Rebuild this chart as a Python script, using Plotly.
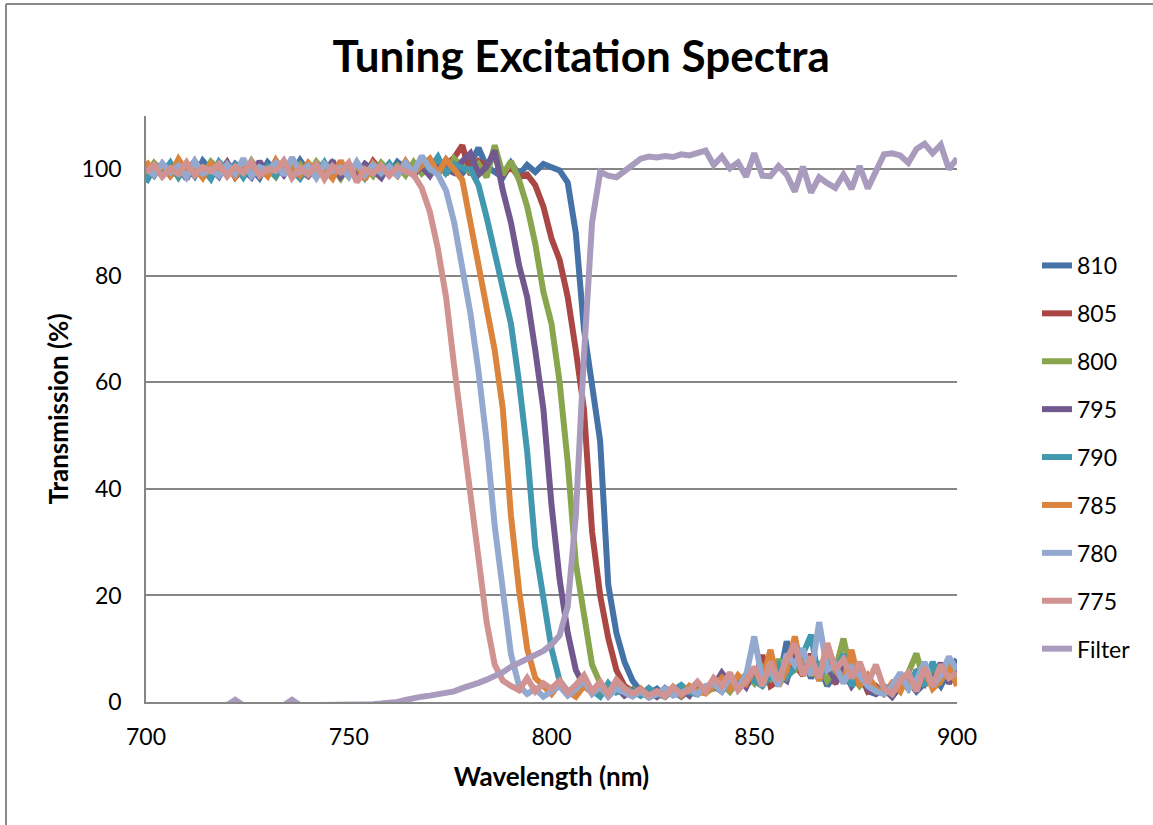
import plotly.graph_objects as go

# Wavelength grid (nm), 2 nm steps
wavelength = list(range(700, 901, 2))

# Transmission (%), rows of 10 points (700-718, 720-738, ...), last = 900
t810 = [98.2, 100.9, 99.4, 101.1, 99.0, 100.5, 98.7, 101.6, 99.8, 100.3,
        98.9, 101.0, 99.7, 100.2, 98.4, 101.3, 99.6, 100.8, 99.1, 101.7,
        99.5, 100.6, 98.8, 101.2, 99.3, 100.0, 98.6, 101.0, 99.9, 100.5,
        99.0, 101.4, 100.2, 98.9, 101.0, 100.5, 99.6, 101.8, 100.0, 99.2,
        101.0, 104.0, 100.5, 99.6, 98.5, 101.2, 99.0, 100.8, 99.5, 101.0,
        100.5, 99.8, 97.5, 88.0, 70.0, 60.0, 49.0, 22.0, 13.0, 7.5,
        4.0, 2.0, 1.5, 2.5, 1.2, 2.0, 1.0, 2.4, 1.6, 2.8,
        2.5, 3.5, 2.0, 4.0, 3.0, 5.0, 4.0, 6.0, 3.5, 11.4,
        6.0, 8.0, 4.5, 7.0, 3.0, 5.5, 7.0, 4.0, 6.0, 2.0,
        1.5, 2.5, 1.0, 3.0, 4.0, 2.0, 3.5, 5.0, 3.0, 6.0,
        8.0]

t805 = [100.6, 99.1, 101.0, 98.8, 100.3, 99.6, 101.5, 98.9, 100.7, 99.3,
        101.3, 98.5, 100.1, 99.8, 101.0, 98.9, 100.5, 99.5, 101.3, 98.7,
        100.4, 99.0, 101.1, 98.6, 100.8, 99.4, 100.1, 98.8, 101.5, 99.7,
        100.2, 98.9, 101.0, 99.5, 100.7, 101.6, 99.3, 100.8, 102.2, 104.5,
        99.0, 101.5, 100.5, 102.5, 99.0, 100.5, 98.5, 99.0, 97.0, 93.0,
        87.0, 83.0, 76.0, 66.0, 55.0, 32.0, 20.0, 12.0, 6.0, 3.0,
        2.0, 1.5, 2.5, 1.0, 2.0, 1.4, 2.6, 1.8, 3.0, 2.2,
        3.0, 2.0, 4.0, 3.5, 5.0, 4.0, 8.8, 3.0, 4.0, 6.0,
        7.0, 5.0, 9.0, 4.5, 6.5, 3.5, 6.0, 4.0, 5.5, 2.0,
        3.0, 1.5, 2.5, 4.0, 3.0, 5.5, 3.5, 7.0, 4.0, 5.0,
        6.5]

t800 = [99.0, 101.2, 99.6, 100.7, 98.5, 101.0, 99.9, 98.7, 101.4, 100.0,
        99.2, 100.6, 98.8, 101.6, 99.5, 100.2, 98.6, 101.1, 99.8, 100.9,
        98.9, 101.4, 99.6, 100.2, 98.3, 101.0, 99.4, 100.6, 98.8, 101.2,
        99.6, 100.7, 98.9, 101.3, 99.2, 100.5, 101.8, 99.0, 102.0, 100.5,
        99.5, 101.0, 98.5, 104.5, 99.0, 101.5, 98.0, 93.0, 86.0, 77.0,
        71.0, 60.0, 45.0, 26.0, 16.0, 7.0, 3.5, 2.0, 3.0, 1.5,
        2.4, 1.2, 2.0, 1.6, 1.0, 2.8, 1.4, 2.0, 3.0, 1.8,
        2.5, 3.5, 2.0, 4.0, 5.0, 3.5, 6.5, 4.5, 8.0, 5.0,
        6.0, 8.5, 5.0, 7.5, 4.0, 6.0, 11.9, 5.0, 3.0, 4.5,
        2.5, 1.5, 3.5, 2.0, 5.5, 9.1, 3.5, 6.0, 4.0, 7.5,
        5.0]

t795 = [100.3, 98.8, 101.0, 99.5, 100.6, 98.2, 101.3, 99.7, 100.1, 98.6,
        101.2, 99.4, 100.0, 98.5, 101.5, 99.0, 100.7, 98.9, 101.1, 99.6,
        98.7, 100.5, 99.2, 101.6, 98.6, 100.3, 99.1, 101.0, 99.8, 98.4,
        100.9, 99.2, 101.4, 99.0, 100.5, 98.8, 101.2, 100.0, 99.3, 101.5,
        103.0, 99.0, 100.5, 103.5, 96.0, 90.0, 82.0, 76.0, 66.0, 55.0,
        37.0, 23.0, 13.0, 6.0, 3.0, 2.0, 3.5, 1.5, 2.8, 1.2,
        2.2, 1.4, 2.0, 1.0, 2.6, 1.6, 2.4, 1.2, 3.5, 2.0,
        3.0, 5.5, 3.5, 4.5, 2.8, 6.0, 3.0, 7.0, 5.0, 4.0,
        9.0, 6.0, 8.0, 5.0, 7.0, 4.0, 6.0, 3.0, 5.0, 2.5,
        1.5, 2.5, 1.0, 3.0, 4.5, 2.0, 5.0, 4.0, 7.3, 3.5,
        6.0]

t790 = [97.5, 100.4, 99.0, 101.2, 98.6, 100.9, 99.4, 100.1, 98.2, 101.4,
        99.7, 100.8, 98.5, 101.0, 99.2, 100.5, 98.8, 101.5, 99.9, 98.3,
        100.6, 99.1, 101.3, 98.7, 100.2, 99.5, 101.0, 98.4, 100.8, 99.2,
        101.1, 98.9, 100.4, 99.6, 101.7, 100.0, 102.3, 99.3, 101.0, 100.2,
        100.0, 97.0, 91.0, 84.0, 78.0, 71.0, 60.0, 47.0, 29.0, 19.0,
        10.0, 4.0, 2.0, 1.5, 3.0, 2.2, 1.0, 3.5, 1.8, 2.5,
        2.0, 1.2, 2.6, 1.5, 1.0, 2.2, 3.2, 1.8, 1.4, 2.6,
        3.2, 2.0, 4.0, 2.8, 5.2, 4.0, 3.0, 5.0, 7.0, 4.5,
        6.5, 9.0, 12.6, 4.0, 8.0, 5.5, 9.0, 3.0, 6.0, 4.0,
        2.0, 3.0, 1.5, 4.0, 2.5, 6.0, 3.0, 7.5, 4.0, 5.5,
        4.0]

t785 = [101.5, 99.3, 100.8, 98.9, 101.9, 99.6, 100.3, 98.4, 101.0, 99.8,
        100.5, 98.6, 101.3, 99.9, 100.2, 98.7, 101.7, 99.4, 100.6, 98.9,
        101.2, 99.5, 100.0, 98.3, 101.6, 99.0, 100.7, 98.1, 101.1, 99.6,
        100.2, 98.8, 101.5, 99.3, 100.7, 102.0, 99.2, 101.8, 100.0, 98.0,
        90.0, 82.0, 75.0, 66.0, 55.0, 35.0, 21.0, 10.0, 4.5, 3.0,
        1.5, 3.5, 2.0, 1.0, 3.0, 1.8, 2.6, 1.2, 3.2, 2.0,
        1.5, 2.5, 1.0, 2.0, 1.4, 2.8, 1.2, 3.0, 2.0, 1.6,
        3.0, 4.5, 2.5, 5.0, 3.5, 6.0, 4.0, 9.8, 3.0, 6.0,
        12.3, 5.0, 8.0, 4.0, 11.0, 6.0, 4.0, 9.8, 3.0, 5.0,
        2.5, 1.5, 3.5, 2.0, 5.0, 3.0, 6.0, 2.5, 4.0, 7.0,
        3.0]

t780 = [100.2, 98.9, 101.1, 99.4, 100.6, 98.5, 101.5, 99.2, 100.0, 98.8,
        100.9, 99.1, 102.0, 98.7, 100.4, 99.8, 101.2, 98.9, 102.2, 99.5,
        100.6, 98.4, 101.0, 99.7, 100.3, 98.6, 101.4, 99.0, 100.8, 99.3,
        100.5, 98.9, 101.2, 99.4, 102.5, 100.1, 99.0, 96.0, 90.0, 82.0,
        73.0, 62.0, 49.0, 33.0, 20.0, 9.0, 3.0, 1.5, 2.5, 1.0,
        2.0, 3.0, 1.2, 2.4, 4.0, 1.5, 3.0, 1.0, 2.5, 1.8,
        1.0, 2.0, 0.8, 1.5, 2.5, 1.2, 1.8, 2.4, 1.5, 3.0,
        3.5, 2.0, 4.8, 2.5, 5.0, 12.3, 4.0, 6.0, 3.0, 9.0,
        7.0, 10.0, 5.0, 15.0, 6.0, 7.0, 3.5, 6.5, 5.0, 3.0,
        2.0, 1.5, 3.0, 5.5, 2.5, 4.0, 7.5, 3.0, 5.0, 8.5,
        6.0]

t775 = [99.5, 100.8, 98.6, 100.2, 99.1, 101.3, 98.9, 100.4, 99.6, 101.0,
        98.7, 100.5, 99.3, 101.4, 98.8, 100.1, 99.7, 101.6, 98.4, 100.3,
        99.0, 100.9, 98.2, 100.6, 99.4, 101.2, 97.6, 100.0, 99.2, 100.7,
        98.8, 100.4, 99.6, 99.0, 96.5, 92.0, 85.0, 76.0, 63.0, 51.0,
        37.0, 25.0, 15.0, 7.0, 4.0, 3.0, 2.2, 4.5, 2.0, 3.5,
        2.5, 4.0, 1.8, 3.2, 5.0, 2.0, 3.8, 1.5, 4.2, 2.6,
        1.6, 2.4, 1.2, 2.0, 1.0, 2.8, 1.5, 2.2, 3.8, 2.0,
        4.5, 3.0, 5.5, 2.2, 4.0, 6.5, 3.0, 7.5, 4.0, 8.0,
        11.0, 5.0, 8.5, 4.5, 11.0, 6.0, 8.0, 4.5, 7.5, 3.5,
        7.0, 2.5, 1.5, 4.0, 5.5, 2.0, 6.5, 3.0, 7.0, 4.5,
        5.5]

t_filter = [-0.6, -0.6, -0.6, -0.6, -0.6, -0.6, -0.6, -0.6, -0.6, -0.6,
            -0.6, 0.4, -0.6, -0.6, -0.6, -0.6, -0.6, -0.6, 0.4, -0.6,
            -0.6, -0.6, -0.6, -0.6, -0.6, -0.6, -0.6, -0.6, -0.4, -0.3,
            -0.2, 0.0, 0.4, 0.8, 1.0, 1.2, 1.4, 1.6, 2.0, 2.6,
            3.0, 3.6, 4.2, 4.8, 5.6, 6.6, 7.4, 8.2, 8.8, 9.6,
            10.8, 12.5, 18.0, 35.0, 65.0, 90.0, 99.5, 98.8, 98.5, 99.5,
            100.8, 102.0, 102.4, 102.2, 102.5, 102.3, 102.8, 102.6, 103.2, 103.5,
            100.8, 102.4, 100.2, 101.3, 98.6, 103.0, 98.8, 98.7, 100.6, 99.0,
            95.8, 100.5, 95.6, 98.5, 97.4, 96.5, 99.0, 96.3, 100.6, 96.4,
            99.6, 102.8, 103.0, 102.6, 101.2, 103.8, 104.8, 103.0, 104.6, 100.0,
            102.0]

series_names = ["810", "805", "800", "795", "790", "785", "780", "775", "Filter"]
series_values = [t810, t805, t800, t795, t790, t785, t780, t775, t_filter]
series_colors = ["#4572A7", "#AA4643", "#89A54E", "#71588F", "#4198AF",
                 "#DB843D", "#93A9CF", "#D19392", "#A99BBD"]

for v in series_values:
    assert len(v) == len(wavelength), len(v)

FONT = "Lato, Carlito, Calibri, sans-serif"

fig = go.Figure()
for i, (name, vals, col) in enumerate(zip(series_names, series_values, series_colors)):
    fig.add_trace(go.Scatter(
        x=wavelength, y=vals, name=name, mode="lines",
        line=dict(color=col, width=6),
        legendgroup="g%d" % i,
    ))

# plot area in pixels: left 146, right 957, top 116, bottom 702
L, R, T, B = 146, 957, 116, 702
W, H = 1153, 825
pw, ph = R - L, B - T

def px_x(x):
    return (x - L) / pw

def px_y(y):
    return (B - y) / ph

border = "#898989"
shapes = [
    dict(type="line", xref="paper", yref="paper", x0=px_x(6), x1=px_x(6),
         y0=px_y(W), y1=px_y(4), line=dict(color=border, width=2)),
    dict(type="line", xref="paper", yref="paper", x0=px_x(6), x1=px_x(W + 10),
         y0=px_y(4), y1=px_y(4), line=dict(color=border, width=2)),
]

fig.update_layout(
    width=W, height=H,
    margin=dict(l=L, r=W - R, t=T, b=H - B, pad=0),
    paper_bgcolor="white", plot_bgcolor="white",
    font=dict(family=FONT, size=23, color="#000000"),
    title=dict(text="<b>Tuning Excitation Spectra</b>", x=0.504, xanchor="center",
               y=1 - 57 / H, yanchor="middle", yref="container",
               font=dict(family=FONT, size=44, color="#000000")),
    xaxis=dict(range=[700, 900], dtick=50, tick0=700, showgrid=False,
               showline=True, linecolor="#868686", linewidth=1.5,
               ticks="", zeroline=False, ticklabelstandoff=14,
               title=dict(text="<b>Wavelength (nm)</b>", standoff=18,
                          font=dict(family=FONT, size=26))),
    yaxis=dict(range=[0, 110], dtick=20, tick0=0, showgrid=True,
               gridcolor="#868686", gridwidth=1.5,
               showline=True, linecolor="#868686", linewidth=1.5,
               ticks="", zeroline=False, ticklabelstandoff=18,
               title=dict(text="<b>Transmission (%)</b>", standoff=6,
                          font=dict(family=FONT, size=26))),
    legend=dict(x=px_x(1037), xanchor="left", y=px_y(244), yanchor="top",
                font=dict(family=FONT, size=23), tracegroupgap=15,
                bgcolor="rgba(0,0,0,0)", itemwidth=30),
    shapes=shapes,
    showlegend=True,
)

fig.write_html("out.html")
